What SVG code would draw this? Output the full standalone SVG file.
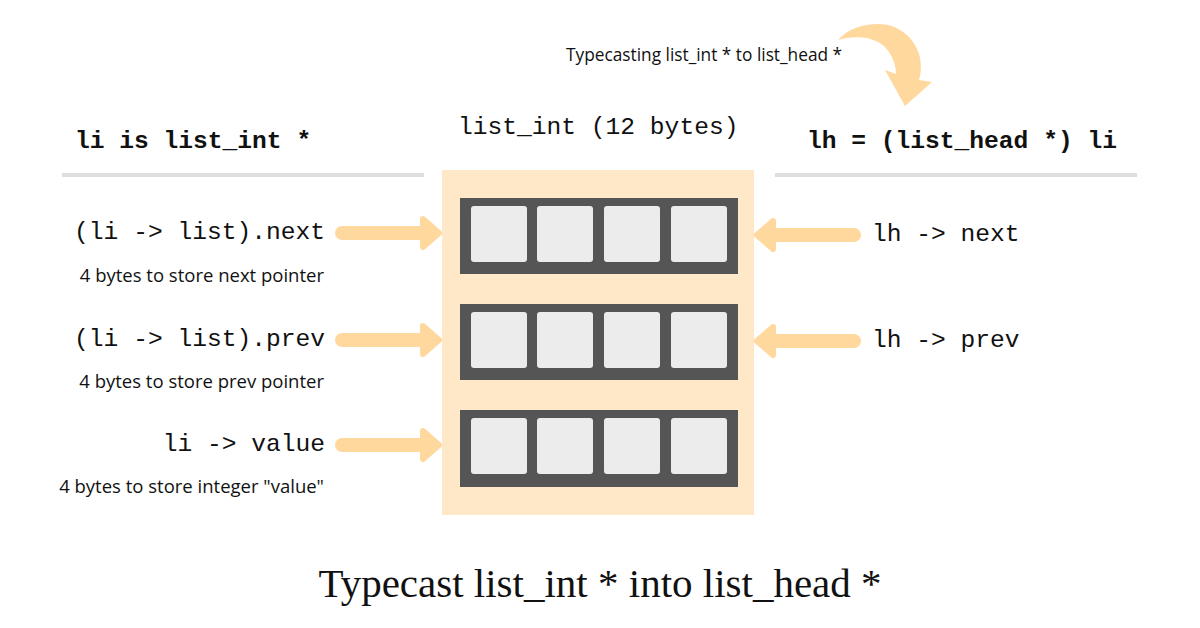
<svg xmlns="http://www.w3.org/2000/svg" width="1200" height="628" viewBox="0 0 1200 628">
<defs>
<style>
.mono{font-family:"Liberation Mono","Courier New",monospace;font-size:24.6px;fill:#111}
.bold{font-weight:bold}
.note{font-family:"Open Sans","Noto Sans",sans-serif;font-size:18.5px;fill:#111}
.cap{font-family:"Open Sans","Noto Sans",sans-serif;font-size:17.3px;fill:#111}
.title{font-family:"Liberation Serif","Times New Roman",serif;font-size:41px;fill:#111}
.rule{stroke:#dedede;stroke-width:4}
.frame{fill:#555555}
.cell{fill:#ececec}
.shaft{stroke:#ffd89e;stroke-width:14;stroke-linecap:round;fill:none}
.head{fill:#ffd89e;stroke:#ffd89e;stroke-width:6;stroke-linejoin:round}
</style>
</defs>
<rect width="1200" height="628" fill="#ffffff"/>

<g id="headers">
<text class="mono bold" x="75" y="148">li is list_int *</text>
<text class="mono" x="458" y="134">list_int (12 bytes)</text>
<text class="mono bold" x="807" y="148">lh = (list_head *) li</text>
<line class="rule" x1="62" y1="175" x2="424" y2="175"/>
<line class="rule" x1="775" y1="175" x2="1137" y2="175"/>
<text class="cap" x="566" y="61">Typecasting list_int * to list_head *</text>
</g>

<g id="cast-arrow">
<path fill="#ffd89e" d="M838,40 C848,29 862,24 878,24 C898,24 914,37 919,54 C922,64 921,74 919,80 L932,82 L905,106 L885,70 L896,74 C896,62 890,50 880,43 C868,36 852,36 838,40 Z"/>
</g>

<g id="list_int">
<rect x="442" y="170" width="312" height="345" fill="#ffe8c8"/>
<g id="field-next">
<rect class="frame" x="460" y="198" width="278" height="76"/>
<rect class="cell" x="471" y="206" width="56" height="56" rx="3"/>
<rect class="cell" x="537" y="206" width="56" height="56" rx="3"/>
<rect class="cell" x="604" y="206" width="56" height="56" rx="3"/>
<rect class="cell" x="671" y="206" width="56" height="56" rx="3"/>
</g>
<g id="field-prev">
<rect class="frame" x="460" y="304" width="278" height="76"/>
<rect class="cell" x="471" y="312" width="56" height="56" rx="3"/>
<rect class="cell" x="537" y="312" width="56" height="56" rx="3"/>
<rect class="cell" x="604" y="312" width="56" height="56" rx="3"/>
<rect class="cell" x="671" y="312" width="56" height="56" rx="3"/>
</g>
<g id="field-value">
<rect class="frame" x="460" y="410" width="278" height="77"/>
<rect class="cell" x="471" y="418" width="56" height="56" rx="3"/>
<rect class="cell" x="537" y="418" width="56" height="56" rx="3"/>
<rect class="cell" x="604" y="418" width="56" height="56" rx="3"/>
<rect class="cell" x="671" y="418" width="56" height="56" rx="3"/>
</g>
</g>

<g id="left-labels">
<text class="mono" x="325" y="239" text-anchor="end">(li -&gt; list).next</text>
<text class="note" x="324" y="282" text-anchor="end">4 bytes to store next pointer</text>
<text class="mono" x="325" y="346" text-anchor="end">(li -&gt; list).prev</text>
<text class="note" x="324" y="388" text-anchor="end">4 bytes to store prev pointer</text>
<text class="mono" x="325" y="451" text-anchor="end">li -&gt; value</text>
<text class="note" x="324" y="493" text-anchor="end">4 bytes to store integer "value"</text>
</g>

<g id="right-labels">
<text class="mono" x="872" y="241">lh -&gt; next</text>
<text class="mono" x="872" y="347">lh -&gt; prev</text>
</g>

<g id="connectors">
<line class="shaft" x1="342" y1="233" x2="426" y2="233"/>
<polygon class="head" points="423,219 439,233 423,247"/>
<line class="shaft" x1="342" y1="340" x2="426" y2="340"/>
<polygon class="head" points="423,326 439,340 423,354"/>
<line class="shaft" x1="342" y1="445" x2="426" y2="445"/>
<polygon class="head" points="423,431 439,445 423,459"/>
<line class="shaft" x1="854" y1="235" x2="770" y2="235"/>
<polygon class="head" points="773,221 757,235 773,249"/>
<line class="shaft" x1="854" y1="341" x2="770" y2="341"/>
<polygon class="head" points="773,327 757,341 773,355"/>
</g>

<text class="title" x="600" y="597" text-anchor="middle">Typecast list_int * into list_head *</text>
</svg>
